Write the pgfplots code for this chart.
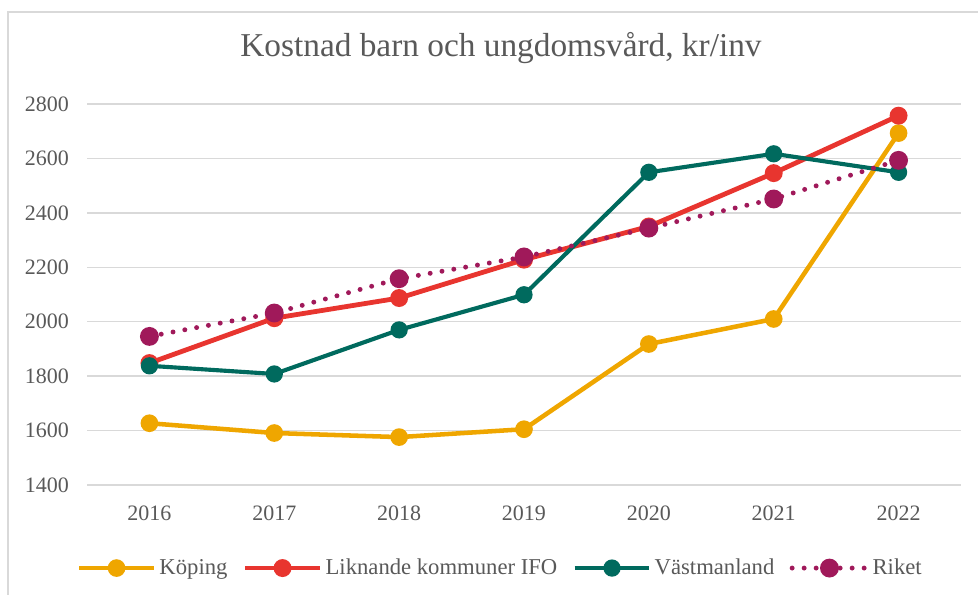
\documentclass[border=0pt]{standalone}
\usepackage{fontspec}
\setmainfont{Liberation Serif}
\usepackage{pgfplots}
\pgfplotsset{compat=1.18}

\definecolor{koping}{HTML}{EFA600}
\definecolor{liknande}{HTML}{E8352F}
\definecolor{vastm}{HTML}{006A5E}
\definecolor{riket}{HTML}{A0195A}
\definecolor{txt}{HTML}{595959}
\definecolor{gridc}{HTML}{D9D9D9}

\begin{document}
\begin{tikzpicture}
% 1 px of the reference = 0.75pt
\useasboundingbox (0pt,0pt) rectangle (733.5pt,445.5pt);
\draw[gridc, line width=1.1pt] (6pt,-5pt) -- (6pt,436.5pt) -- (740pt,436.5pt);
\node[txt, font=\fontsize{25}{30}\selectfont] at (375.75pt,409.5pt) {Kostnad barn och ungdomsvård, kr/inv};

\begin{axis}[
    at={(65.25pt,81.75pt)}, anchor=south west,
    scale only axis,
    width=655.5pt, height=285.75pt,
    xmin=2015.5, xmax=2022.5,
    ymin=1400, ymax=2800,
    xtick={2016,...,2022},
    ytick={1400,1600,...,2800},
    /pgf/number format/.cd, 1000 sep={}, assume math mode=true,
    /pgfplots/.cd,
    axis line style={draw=none},
    major tick length=0pt,
    ymajorgrids,
    grid style={gridc, line width=1.1pt},
    ticklabel style={txt, font=\fontsize{16.5}{20}\selectfont},
    xticklabel style={anchor=center, yshift=-21pt},
    yticklabel style={anchor=east, xshift=-10pt},
    clip=false,
    legend style={at={(0.4737,-0.218)}, anchor=center, draw=none,
        font=\fontsize{17}{20}\selectfont, text=txt,
        legend columns=4,
        nodes={inner sep=2.5pt},
        /tikz/every even column/.append style={column sep=9pt}},
    legend image code/.code={%
        \draw[mark repeat=2, mark phase=2, #1]
        plot coordinates {(0pt,0pt) (28pt,0pt) (56pt,0pt)};},
]
\addplot[koping, line width=3.4pt, mark=*, mark size=4.9pt] coordinates {
    (2016,1627) (2017,1591) (2018,1576) (2019,1605) (2020,1918) (2021,2010) (2022,2693)
};
\addlegendentry{Köping}
\addplot[liknande, line width=3.6pt, mark=*, mark size=4.9pt] coordinates {
    (2016,1848) (2017,2013) (2018,2087) (2019,2228) (2020,2350) (2021,2546) (2022,2757)
};
\addlegendentry{Liknande kommuner IFO}
\addplot[vastm, line width=3.1pt, mark=*, mark size=4.9pt] coordinates {
    (2016,1838) (2017,1808) (2018,1970) (2019,2099) (2020,2549) (2021,2617) (2022,2549)
};
\addlegendentry{Västmanland}
\addplot[riket, line width=3.7pt, line cap=round, dash pattern=on 0pt off 9pt,
    mark=*, mark size=5.2pt, mark options={solid}] coordinates {
    (2016,1946) (2017,2032) (2018,2158) (2019,2238) (2020,2344) (2021,2451) (2022,2593)
};
\addlegendentry{Riket}
\end{axis}
\end{tikzpicture}
\end{document}
